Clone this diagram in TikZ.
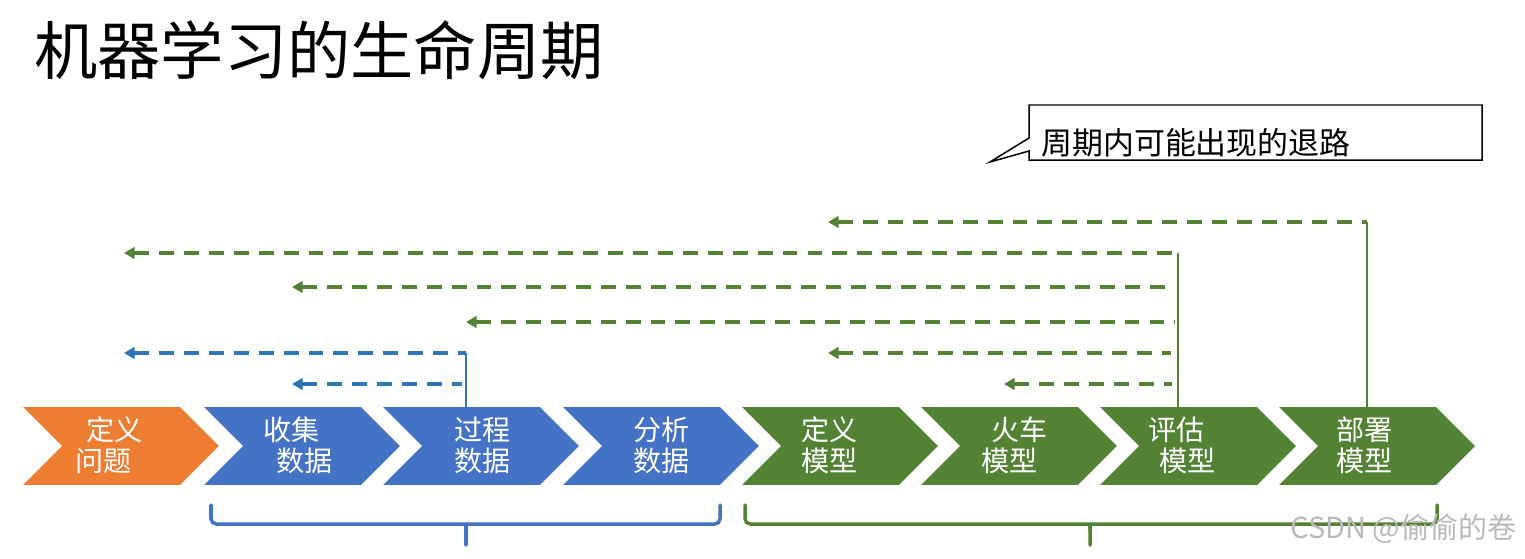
\documentclass[tikz,border=0pt]{standalone}
\usepackage{fontspec}
\setmainfont{Noto Sans CJK SC}
\usepackage{xcolor}
\usetikzlibrary{shapes.symbols,arrows.meta,positioning}

\definecolor{mlorange}{HTML}{ED7D31}
\definecolor{mlblue}{HTML}{4472C4}
\definecolor{mlgreen}{HTML}{548235}
\definecolor{backblue}{HTML}{2E75B6}

\begin{document}
\begin{tikzpicture}[
    x=0.02cm, y=-0.02cm,
    chev/.style={signal, signal from=west, signal to=east, signal pointer angle=90, minimum width=3.92cm, minimum height=1.56cm, inner sep=0pt},
    steptext/.style={anchor=west, align=left, inner sep=0pt, text=white, font=\fontsize{16pt}{17.6pt}\selectfont},
    back/.style={{Triangle[length=6pt, width=6.5pt]}-, line width=2.5pt, dash pattern=on 8.5pt off 5.7pt},
    uplink/.style={line width=1.6pt},
    bracket/.style={line width=2pt, line cap=round, rounded corners=3pt}
]
\useasboundingbox (0,0) rectangle (1525,558);

% Title
\node[anchor=west, inner sep=0pt, font=\fontsize{36pt}{40pt}\selectfont] (title) at (34,50) {机器学习的生命周期};

% Callout
\node[anchor=west, inner sep=0pt, font=\fontsize{17.6pt}{20pt}\selectfont] (note) at (1041,143) {周期内可能出现的退路};
\draw[line width=0.85pt] (1029,105) -- (1482,105) -- (1482,160) -- (1029,160) -- (1029,151) -- (990,162) -- (1029,138) -- cycle;

% Lifecycle steps
\node[chev, fill=mlorange] (defprob) at (121,446) {};
\node[chev, fill=mlblue] (collect) at (302,446) {};
\node[chev, fill=mlblue] (process) at (481,446) {};
\node[chev, fill=mlblue] (analyse) at (661,446) {};
\node[chev, fill=mlgreen] (defmodel) at (840,446) {};
\node[chev, fill=mlgreen] (train) at (1019,446) {};
\node[chev, fill=mlgreen] (evaluate) at (1198,446) {};
\node[chev, fill=mlgreen] (deploy) at (1377,446) {};

% Step labels
\node[steptext] (defprobtxt) at (75,445) {\hspace*{0.39em}定义\\问题};
\node[steptext] (collecttxt) at (263,445) {收集\\\hspace*{0.46em}数据};
\node[steptext] (processtxt) at (454,445) {过程\\数据};
\node[steptext] (analysetxt) at (633,445) {分析\\数据};
\node[steptext] (defmodeltxt) at (801,445) {定义\\模型};
\node[steptext] (traintxt) at (981,445) {\hspace*{0.35em}火车\\模型};
\node[steptext] (evaluatetxt) at (1148,445) {评估\\\hspace*{0.39em}模型};
\node[steptext] (deploytxt) at (1336,445) {部署\\模型};

% Way back - risers
\coordinate (procup) at (466,353);
\coordinate (evalup) at (1178,253);
\coordinate (deployup) at (1367,222);
\draw[uplink, backblue] (process.north -| procup) -- (procup);
\draw[uplink, mlgreen] (evaluate.north -| evalup) -- (evalup);
\draw[uplink, mlgreen] (deploy.north -| deployup) -- (deployup);

% Way back - arrow tips and loose ends
\coordinate (bk1) at (124,353);
\coordinate (bk2) at (292,384);
\coordinate (bk2e) at (462,384);
\coordinate (gk1) at (828,222);
\coordinate (gk2) at (124,253);
\coordinate (gk3) at (292,287);
\coordinate (gk3e) at (1173,287);
\coordinate (gk4) at (466,322);
\coordinate (gk4e) at (1175,322);
\coordinate (gk5) at (828,353);
\coordinate (gk5e) at (1171,353);
\coordinate (gk6) at (1004,384);
\coordinate (gk6e) at (1172,384);

% Way back - dashed arrows
\draw[back, backblue] (bk1) -- (procup);
\draw[back, backblue] (bk2) -- (bk2e);
\draw[back, mlgreen] (gk1) -- (deployup);
\draw[back, mlgreen] (gk2) -- (evalup);
\draw[back, mlgreen] (gk3) -- (gk3e);
\draw[back, mlgreen] (gk4) -- (gk4e);
\draw[back, mlgreen] (gk5) -- (gk5e);
\draw[back, mlgreen] (gk6) -- (gk6e);

% Braces
\draw[bracket, mlblue] (211,505) -- (211,524) -- (460,524) .. controls (466,524) .. (466,531) -- (466,545);
\draw[bracket, mlblue] (466,531) .. controls (466,524) .. (472,524) -- (720,524) -- (720,505);
\draw[bracket, mlgreen] (745,505) -- (745,524) -- (1084,524) .. controls (1090,524) .. (1090,531) -- (1090,545);
\draw[bracket, mlgreen] (1090,531) .. controls (1090,524) .. (1096,524) -- (1437,524) -- (1437,505);

% Watermark
\node[anchor=west, inner sep=0pt, text=gray!55, font=\fontsize{16.5pt}{18pt}\selectfont] (mark) at (1290,529) {CSDN @偷偷的卷};

\end{tikzpicture}
\end{document}
